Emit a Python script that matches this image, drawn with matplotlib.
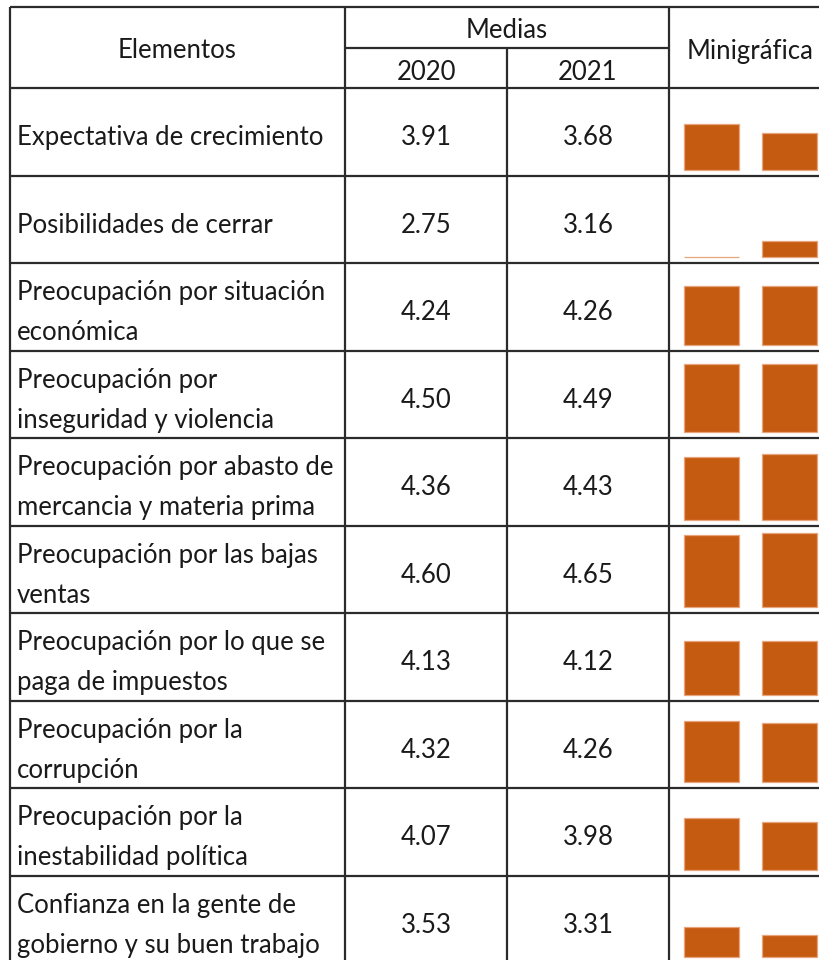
import numpy as np
import matplotlib
matplotlib.use('Agg')
from matplotlib import pyplot as plt

# data
elementos = [
    'Expectativa de crecimiento',
    'Posibilidades de cerrar',
    'Preocupación por situación\neconómica',
    'Preocupación por\ninseguridad y violencia',
    'Preocupación por abasto de\nmercancia y materia prima',
    'Preocupación por las bajas\nventas',
    'Preocupación por lo que se\npaga de impuestos',
    'Preocupación por la\ncorrupción',
    'Preocupación por la\ninestabilidad política',
    'Confianza en la gente de\ngobierno y su buen trabajo',
]
years = ['2020', '2021']
medias_2020 = [3.91, 2.75, 4.24, 4.50, 4.36, 4.60, 4.13, 4.32, 4.07, 3.53]
medias_2021 = [3.68, 3.16, 4.26, 4.49, 4.43, 4.65, 4.12, 4.26, 3.98, 3.31]

W, H = 819., 960.
bar_color = '#C55A11'
edge_color = '#E8A47A'
line_color = '#2b2b2b'
text_color = '#1a1a1a'
font = 'Lato'
fs = 18.5

fig = plt.figure(figsize=(W/100., H/100.), dpi=100)
ax = fig.add_axes([0, 0, 1, 1])
ax.set_xlim(0, W)
ax.set_ylim(H, 0)
ax.axis('off')

# column edges (pixels)
x_left, x_elem, x_mid, x_mini, x_right = 10, 345, 507, 669, W
y_top, y_sub, y_head = 7, 48, 88
row_h = 87.5
nrows = len(elementos)
row_tops = y_head + row_h*np.arange(nrows + 1)

lw = 1.6
ax.hlines([y_top], x_left, x_right, color=line_color, lw=lw)
ax.hlines([y_sub], x_elem, x_mini, color=line_color, lw=lw)
ax.hlines(row_tops, x_left, x_right, color=line_color, lw=lw)
ax.vlines([x_left, x_elem, x_mini], y_top, H, color=line_color, lw=lw)
ax.vlines([x_mid], y_sub, H, color=line_color, lw=lw)

tkw = dict(family=font, fontsize=fs, color=text_color, va='center')
ax.text((x_left + x_elem)/2, 50, 'Elementos', ha='center', **tkw)
ax.text((x_elem + x_mini)/2, 30, 'Medias', ha='center', **tkw)
ax.text((x_elem + x_mid)/2, 72, years[0], ha='center', **tkw)
ax.text((x_mid + x_mini)/2, 72, years[1], ha='center', **tkw)
ax.text(750, 52, 'Minigráfica', ha='center', **tkw)

vmin = min(medias_2020 + medias_2021)
vmax = max(medias_2020 + medias_2021)

for i, label in enumerate(elementos):
    yc = (row_tops[i] + row_tops[i + 1])/2 + 6
    lines = label.split('\n')
    offs = [0] if len(lines) == 1 else [-20, 20]
    for line, off in zip(lines, offs):
        ax.text(17, yc + off, line, ha='left', **tkw)
    ax.text((x_elem + x_mid)/2, yc, '%.2f' % medias_2020[i], ha='center', **tkw)
    ax.text((x_mid + x_mini)/2, yc, '%.2f' % medias_2021[i], ha='center', **tkw)

    # sparkline for the row
    bottom = row_tops[i + 1] - 6
    spark = fig.add_axes([684/W, 1 - bottom/H, (817 - 684)/W, 74/H])
    spark.bar([0, 1], [medias_2020[i] - vmin, medias_2021[i] - vmin],
              bottom=vmin, width=0.705, color=bar_color,
              edgecolor=edge_color, linewidth=0.9, clip_on=False)
    spark.set_xlim(-0.3525, 1.3525)
    spark.set_ylim(vmin, vmax)
    spark.axis('off')

fig.savefig('out.png', dpi=100)
